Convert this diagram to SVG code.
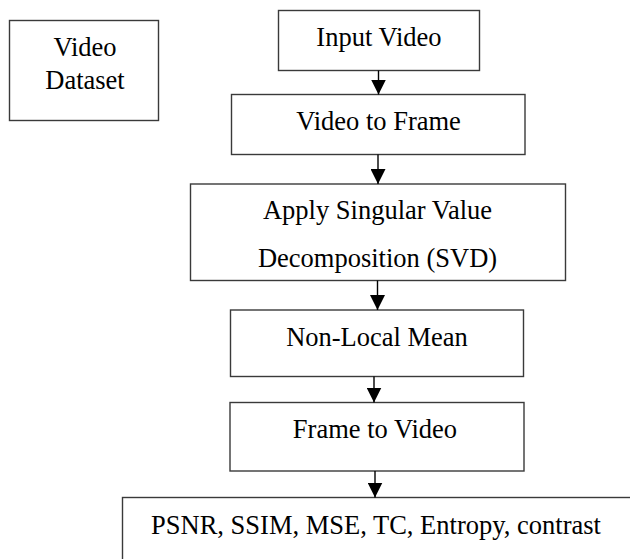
<svg xmlns="http://www.w3.org/2000/svg" width="630" height="559" viewBox="0 0 630 559">
<style>
.box{fill:#fff;stroke:#3a3a3a;stroke-width:1.4}
.t{font-family:'Liberation Serif','Times New Roman',Tinos,'DejaVu Serif',serif;font-size:26.5px;fill:#000;text-anchor:middle}
.c{stroke:#000;stroke-width:1.4;fill:none}
</style>
<defs>
<marker id="ah" markerWidth="15" markerHeight="15" viewBox="0 0 15 15" refX="15" refY="7.5" orient="auto" markerUnits="userSpaceOnUse">
<path d="M0,0 L15,7.5 L0,15 Z" fill="#000"/>
</marker>
</defs>
<rect width="630" height="559" fill="#fff"/>
<g id="video-dataset">
<rect class="box" x="9.5" y="20.5" width="149" height="100"/>
<text class="t" x="85" y="56">Video</text>
<text class="t" x="85" y="89">Dataset</text>
</g>
<g id="input-video">
<rect class="box" x="278.5" y="10.5" width="201" height="60"/>
<text class="t" x="379" y="45.5">Input Video</text>
</g>
<g id="video-to-frame">
<rect class="box" x="231.5" y="94.5" width="293.5" height="60"/>
<text class="t" x="378.5" y="129.5">Video to Frame</text>
</g>
<g id="svd">
<rect class="box" x="190.5" y="184" width="375" height="96.5"/>
<text class="t" x="377.5" y="219">Apply Singular Value</text>
<text class="t" x="377.5" y="266.5">Decomposition (SVD)</text>
</g>
<g id="non-local-mean">
<rect class="box" x="230.5" y="310" width="293" height="66.5"/>
<text class="t" x="377" y="345.5">Non-Local Mean</text>
</g>
<g id="frame-to-video">
<rect class="box" x="230" y="402.5" width="294" height="68.5"/>
<text class="t" x="375" y="438">Frame to Video</text>
</g>
<g id="metrics">
<rect class="box" x="122.5" y="497.5" width="530" height="80"/>
<text class="t" x="376" y="533.5">PSNR, SSIM, MSE, TC, Entropy, contrast</text>
</g>
<g id="connectors">
<line class="c" x1="378.5" y1="70.5" x2="378.5" y2="94.5" marker-end="url(#ah)"/>
<line class="c" x1="378" y1="154.5" x2="378" y2="184" marker-end="url(#ah)"/>
<line class="c" x1="377.5" y1="280.5" x2="377.5" y2="310" marker-end="url(#ah)"/>
<line class="c" x1="374" y1="376.5" x2="374" y2="402.5" marker-end="url(#ah)"/>
<line class="c" x1="375" y1="471" x2="375" y2="497.5" marker-end="url(#ah)"/>
</g>
</svg>
